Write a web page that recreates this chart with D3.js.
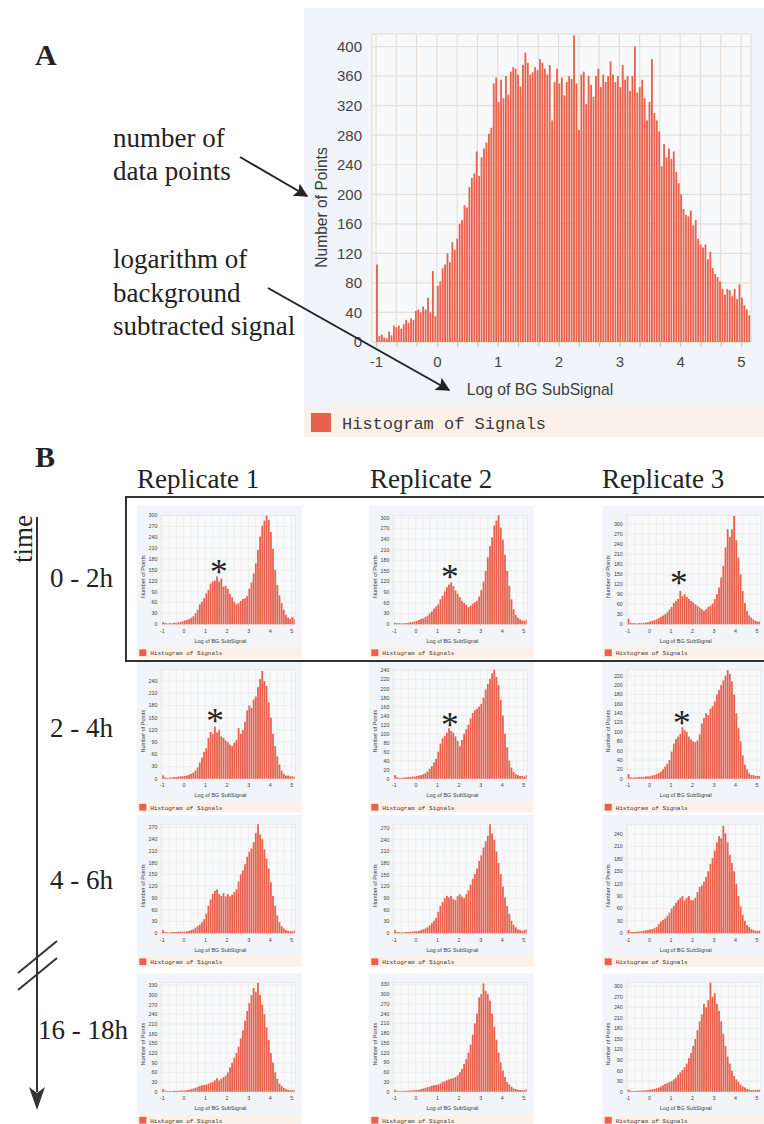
<!DOCTYPE html>
<html>
<head>
<meta charset="utf-8">
<script src="https://cdn.jsdelivr.net/npm/d3@7"></script>
<style>
  body { margin: 0; background: #fff; }
  svg { display: block; }
</style>
</head>
<body>
<svg id="fig" width="764" height="1124"></svg>
<script>
// histogram bins start at -1, main panel uses 0.04 wide bins, small panels 0.1
const binStart = -1.0;
const mainBin = 0.04;
const smallBin = 0.1;

// panel A: Number of Points per bin of Log of BG SubSignal
const mainCounts = [
  105, 8, 10, 6, 5, 14, 9, 22, 20, 22,
  18, 24, 30, 26, 32, 30, 42, 44, 40, 48,
  44, 60, 40, 96, 35, 76, 82, 100, 105, 120,
  108, 135, 125, 140, 160, 165, 185, 182, 210, 222,
  228, 258, 225, 250, 262, 270, 282, 290, 350, 358,
  325, 355, 330, 360, 335, 366, 372, 370, 362, 346,
  375, 392, 378, 362, 365, 372, 368, 383, 378, 370,
  362, 375, 300, 352, 370, 350, 358, 334, 352, 360,
  356, 415, 350, 287, 362, 366, 322, 360, 348, 332,
  360, 370, 345, 362, 352, 360, 380, 362, 352, 360,
  345, 375, 355, 360, 340, 360, 400, 338, 345, 355,
  330, 300, 325, 383, 310, 300, 285, 238, 268, 250,
  262, 248, 258, 230, 215, 200, 180, 172, 170, 178,
  158, 165, 140, 132, 128, 132, 112, 122, 100, 92,
  88, 82, 72, 64, 72, 70, 62, 72, 58, 78,
  60, 50, 44, 36
];
const mainYTop = 417;
const mainYStep = 40;

// panel B: rows are time windows, columns replicates
const replicates = ["Replicate 1", "Replicate 2", "Replicate 3"];
const timepoints = ["0 - 2h", "2 - 4h", "4 - 6h", "16 - 18h"];

const r1_0_2 = [6,3,2,3,2,4,3,5,6,8, 10,12,14,18,22,30,40,55,62,72, 85,95,112,118,120,132,118,126,104,106, 98,84,74,62,55,58,64,70,72,78, 98,115,140,168,205,242,272,286,300,288, 255,208,150,108,80,58,40,26,18,15, 20,14];
const r2_0_2 = [4,3,3,2,3,3,4,5,6,8, 9,12,15,16,20,24,30,36,44,50, 56,70,80,92,104,112,118,108,95,86, 76,66,60,55,48,52,58,62,66,78, 96,120,150,188,220,245,278,292,307,272, 238,196,150,108,70,42,26,18,14,10, 10,12];
const r3_0_2 = [16,4,3,3,2,4,3,4,5,6, 8,10,12,15,18,22,26,30,36,44, 52,64,70,76,100,84,90,82,76,70, 66,60,55,50,45,40,45,52,56,62, 75,90,110,140,175,230,285,262,285,325, 252,200,150,100,64,40,26,20,14,10, 8,8];
const r1_2_4 = [8,3,2,3,3,4,4,5,6,6, 7,8,10,12,15,20,28,40,52,66, 75,100,115,110,128,114,120,104,100,94, 90,84,80,88,95,125,110,120,140,168, 180,174,195,202,225,245,265,240,228,188, 150,110,80,55,35,20,12,8,8,6, 6,5];
const r2_2_4 = [8,3,2,2,3,3,4,4,5,5, 6,7,8,10,12,16,22,28,36,44, 60,78,90,95,102,112,106,102,94,84, 72,86,100,110,120,134,146,152,156,160, 166,180,198,210,222,234,242,226,208,175, 140,100,70,40,25,15,10,8,6,6, 5,8];
const r3_2_4 = [10,3,2,3,3,4,4,4,5,5, 5,7,8,10,12,15,20,26,32,40, 58,75,85,90,96,110,104,100,90,84, 80,78,82,95,118,130,140,136,150,155, 165,180,190,200,210,220,232,224,208,180, 140,108,80,50,30,20,12,8,8,6, 6,6];
const r1_4_6 = [8,3,2,2,3,3,3,4,4,4, 4,5,6,8,10,14,18,22,28,36, 50,70,86,100,108,112,100,95,102,94, 100,94,98,105,112,132,150,160,176,195, 208,216,232,255,278,252,240,214,190,165, 130,95,70,45,28,18,12,8,6,5, 5,8];
const r2_4_6 = [8,3,3,2,2,3,3,4,4,5, 5,6,8,10,12,15,20,26,32,40, 55,70,80,90,96,92,96,88,85,95, 100,94,90,100,110,125,140,152,166,186, 200,220,236,250,280,256,240,210,180,152, 120,92,70,50,32,22,15,10,8,6, 8,10];
const r3_4_6 = [8,3,3,3,4,4,5,6,7,8, 9,10,12,15,22,28,32,36,42,50, 60,66,74,80,86,90,80,86,90,80, 80,86,100,112,116,125,136,150,168,182, 200,220,235,230,260,242,220,190,170,150, 120,90,65,45,30,20,15,10,8,6, 6,6];
const r1_16_18 = [8,3,2,2,2,3,3,3,4,4, 4,5,6,8,10,12,15,18,20,21, 22,25,28,30,35,42,35,40,45,50, 60,75,90,105,120,140,165,190,220,250, 275,300,322,310,338,300,270,240,200,160, 120,90,60,40,25,18,12,8,6,5, 5,5];
const r2_16_18 = [6,3,2,2,3,3,3,4,4,5, 5,6,8,10,12,14,16,18,20,21, 22,25,30,32,35,38,40,42,45,50, 60,70,85,100,120,145,175,210,240,290, 300,333,310,300,280,240,200,160,120,90, 65,45,30,22,15,10,8,6,5,5, 5,8];
const r3_16_18 = [6,3,2,2,3,3,3,4,4,5, 6,7,8,10,12,15,18,22,25,28, 30,35,40,48,55,62,70,80,95,110, 130,150,175,200,220,250,240,260,310,270, 280,250,230,200,165,130,100,80,60,45, 35,28,20,15,12,8,6,5,5,5, 5,6];

const smallCounts = [
  [r1_0_2, r2_0_2, r3_0_2],
  [r1_2_4, r2_2_4, r3_2_4],
  [r1_4_6, r2_4_6, r3_4_6],
  [r1_16_18, r2_16_18, r3_16_18]
];
const smallYTops = [[301, 307, 327], [268, 242, 233], [278, 280, 264], [338, 335, 310]];
const smallYSteps = [[30, 30, 30], [30, 20, 20], [30, 30, 30], [30, 30, 30]];
// asterisk over the first peak, [log signal, count], only in the first two rows
const starMarks = [
  [[1.63, 158], [1.58, 147], [1.38, 139]],
  [[1.45, 154], [1.58, 130], [1.52, 129]],
  [null, null, null],
  [null, null, null]
];

const svg = d3.select("#fig");
const barColor = "#e9614c";
const sans = "'Liberation Sans', Arial, sans-serif";
const serif = "'Liberation Serif', 'Times New Roman', serif";

// one screenshot-like histogram panel, drawn at full size (466 x 429)
function drawHist(g, counts, bin, yTop, yStep, star) {
  const x = d3.scaleLinear().domain([-1.066, 5.164]).range([68, 447]);
  const y = d3.scaleLinear().domain([0, yTop]).range([334, 26]);

  g.append("rect").attr("width", 466).attr("height", 399).attr("fill", "#f1f5f9");
  g.append("rect").attr("y", 399).attr("width", 466).attr("height", 30).attr("fill", "#fcf1e8");
  g.append("rect").attr("x", 68).attr("y", 26).attr("width", 379).attr("height", 308)
    .attr("fill", "#f8f9fb");

  const gridX = d3.range(0, 19).map(k => -1 + k / 3);
  const yTicks = d3.range(0, yTop, yStep);

  g.append("g").selectAll("line").data(gridX).join("line")
    .attr("x1", d => x(d)).attr("x2", d => x(d))
    .attr("y1", 26).attr("y2", 334)
    .attr("stroke", "#e7dfd7").attr("stroke-width", 1.2);
  g.append("g").selectAll("line").data(yTicks).join("line")
    .attr("x1", 68).attr("x2", 447)
    .attr("y1", d => y(d)).attr("y2", d => y(d))
    .attr("stroke", "#e7dfd7").attr("stroke-width", 1.2);
  g.append("rect").attr("x", 68).attr("y", 26).attr("width", 379).attr("height", 308)
    .attr("fill", "none").attr("stroke", "#e3dcd5").attr("stroke-width", 1.2);

  const gap = bin > 0.05 ? 1 : 0.6;
  g.append("g").selectAll("rect").data(counts).join("rect")
    .attr("x", (d, i) => x(binStart + i * bin))
    .attr("width", (d, i) => Math.max(0, Math.min(x(binStart + (i + 1) * bin), x.range()[1]) - x(binStart + i * bin) - gap))
    .attr("y", d => y(d))
    .attr("height", d => y(0) - y(d))
    .attr("fill", barColor);

  const xAxis = d3.axisBottom(x).tickValues(gridX).tickSize(5).tickPadding(9)
    .tickFormat(d => Math.abs(d - Math.round(d)) < 1e-6 ? String(Math.round(d)) : "");
  const ax = g.append("g").attr("transform", "translate(0,334)").call(xAxis);
  ax.select(".domain").remove();
  ax.selectAll("line").attr("stroke", "#c9c3bd").attr("stroke-width", 1.2);
  ax.selectAll("text").attr("font-family", sans).attr("font-size", 15).attr("fill", "#444");

  const yAxis = d3.axisLeft(y).tickValues(yTicks).tickSize(0).tickPadding(10);
  const ay = g.append("g").attr("transform", "translate(68,0)").call(yAxis);
  ay.select(".domain").remove();
  ay.selectAll("text").attr("font-family", sans).attr("font-size", 15).attr("fill", "#444");

  g.append("text").attr("transform", "translate(23,199.5) rotate(-90)")
    .attr("text-anchor", "middle").attr("font-family", sans).attr("font-size", 15.6)
    .attr("fill", "#3c3c3c").text("Number of Points");
  g.append("text").attr("x", 236).attr("y", 387)
    .attr("text-anchor", "middle").attr("font-family", sans).attr("font-size", 15.7)
    .attr("fill", "#3c3c3c").text("Log of BG SubSignal");

  g.append("rect").attr("x", 7).attr("y", 405).attr("width", 20).attr("height", 19).attr("fill", barColor);
  g.append("text").attr("x", 38).attr("y", 421)
    .attr("font-family", "'Liberation Mono', 'Courier New', monospace").attr("font-size", 17)
    .attr("fill", "#3a3a3a").text("Histogram of Signals");

  if (star) {
    g.append("text").attr("x", x(star[0])).attr("y", y(star[1])).attr("dy", "0.47em")
      .attr("text-anchor", "middle").attr("font-family", serif).attr("font-size", 100)
      .attr("fill", "#222").text("*");
  }
}

// ---- panel A ----
svg.append("text").attr("x", 35).attr("y", 65).attr("font-family", serif)
  .attr("font-weight", "bold").attr("font-size", 30).attr("fill", "#222").text("A");

const gA = svg.append("g").attr("transform", "translate(304,8)");
drawHist(gA, mainCounts, mainBin, mainYTop, mainYStep, null);

const notes = svg.append("g").attr("font-family", serif).attr("font-size", 27).attr("fill", "#222");
[["number of", 147], ["data points", 180], ["logarithm of", 268], ["background", 302], ["subtracted signal", 335]]
  .forEach(([t, yy]) => notes.append("text").attr("x", 113).attr("y", yy).text(t));

svg.append("defs").append("marker").attr("id", "head")
  .attr("viewBox", "0 0 10 10").attr("refX", 9).attr("refY", 5)
  .attr("markerWidth", 7).attr("markerHeight", 7).attr("orient", "auto")
  .append("path").attr("d", "M0,0 L10,5 L0,10 L2,5 Z").attr("fill", "#222");

svg.append("line").attr("x1", 240).attr("y1", 157).attr("x2", 307).attr("y2", 196)
  .attr("stroke", "#222").attr("stroke-width", 2).attr("marker-end", "url(#head)");
svg.append("line").attr("x1", 268).attr("y1", 288).attr("x2", 449).attr("y2", 390)
  .attr("stroke", "#222").attr("stroke-width", 2).attr("marker-end", "url(#head)");

// ---- panel B ----
svg.append("text").attr("x", 35).attr("y", 467).attr("font-family", serif)
  .attr("font-weight", "bold").attr("font-size", 30).attr("fill", "#222").text("B");

const colX = [136.8, 368.8, 602.2];
const rowY = [506, 660.5, 815, 973.5];
const smallScale = 0.354;

smallCounts.forEach((row, r) => {
  row.forEach((counts, c) => {
    const g = svg.append("g").attr("transform", `translate(${colX[c]},${rowY[r]}) scale(${smallScale})`);
    drawHist(g, counts, smallBin, smallYTops[r][c], smallYSteps[r][c], starMarks[r][c]);
  });
});

svg.append("g").selectAll("text").data(replicates).join("text")
  .attr("x", (d, i) => [137, 370, 602][i]).attr("y", 488)
  .attr("font-family", serif).attr("font-size", 27).attr("fill", "#222").text(d => d);

svg.append("g").selectAll("text").data(timepoints).join("text")
  .attr("x", (d, i) => i === 3 ? 38 : 50).attr("y", (d, i) => [587, 737, 889, 1039][i])
  .attr("font-family", serif).attr("font-size", 27).attr("fill", "#222").text(d => d);

// highlight box around the first time window
svg.append("rect").attr("x", 126).attr("y", 497).attr("width", 700).attr("height", 164)
  .attr("fill", "none").attr("stroke", "#333").attr("stroke-width", 2);

// time arrow
svg.append("text").attr("transform", "translate(32,539) rotate(-90)")
  .attr("text-anchor", "middle").attr("font-family", serif).attr("font-size", 27)
  .attr("fill", "#222").text("time");
svg.append("line").attr("x1", 37).attr("y1", 517).attr("x2", 37).attr("y2", 1092)
  .attr("stroke", "#333").attr("stroke-width", 2);
svg.append("path").attr("d", "M37,1110 L29,1087 L37,1093 L45,1087 Z").attr("fill", "#333");
svg.append("line").attr("x1", 18).attr("y1", 973).attr("x2", 57).attr("y2", 941)
  .attr("stroke", "#333").attr("stroke-width", 2);
svg.append("line").attr("x1", 18).attr("y1", 990).attr("x2", 57).attr("y2", 958)
  .attr("stroke", "#333").attr("stroke-width", 2);
</script>
</body>
</html>
